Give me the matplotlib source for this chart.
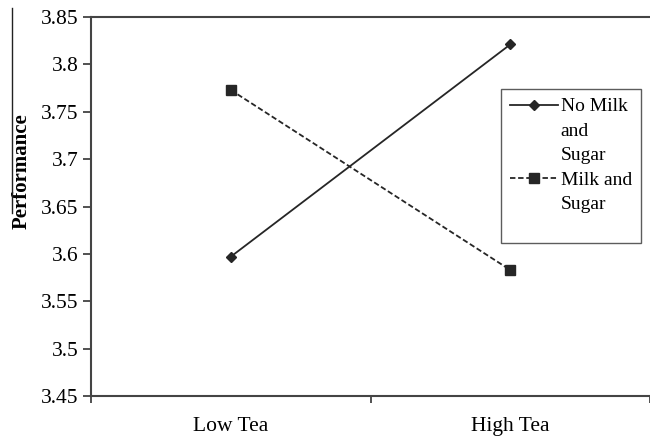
import numpy as np
import matplotlib.pyplot as plt
from matplotlib.lines import Line2D

# data
categories = ["Low Tea", "High Tea"]
no_milk = [3.597, 3.821]
milk = [3.773, 3.583]
yticks = [3.45, 3.5, 3.55, 3.6, 3.65, 3.7, 3.75, 3.8, 3.85]
legend_lines = [["No Milk", "and", "Sugar"], ["Milk and", "Sugar"]]

plt.rcParams['font.family'] = ['Liberation Serif', 'DejaVu Serif']

fig = plt.figure(figsize=(6.5, 4.4), dpi=100)
ax = fig.add_axes([91/650, 1-396/440, 1-91/650, (396-17)/440])

x = np.arange(len(categories)) + 0.5
l1, = ax.plot(x, no_milk, color='#262626', lw=1.3, ls='-', marker='D', ms=5.5)
l2, = ax.plot(x, milk, color='#262626', lw=1.3, ls=(0, (3, 1.5)), marker='s', ms=7)

ax.set_xlim(0, 2)
ax.set_ylim(3.45, 3.85)
ax.set_yticks(yticks)
ax.set_yticklabels([f"{v:g}" for v in yticks])
ax.set_xticks([0, 1, 2])
ax.set_xticklabels([])
ax.set_xticks(x, minor=True)
ax.set_xticklabels(categories, minor=True)
ax.tick_params(axis='x', which='minor', length=0, pad=15, labelsize=15.5)
ax.tick_params(axis='x', which='major', direction='out', length=5, width=1.2, color='#333333')
ax.tick_params(axis='y', direction='out', length=6, width=1.2, color='#333333',
               labelsize=15.5, pad=3)

for s in ['left', 'bottom', 'top']:
    ax.spines[s].set_color('#444444')
    ax.spines[s].set_linewidth(1.5)
ax.spines['right'].set_visible(False)

ax.set_ylabel("Performance", fontsize=15, fontweight='bold')
ax.yaxis.set_label_coords(-0.106, 0.594)

# legend: handle sits beside the first line of each label (Excel style)
blank = Line2D([], [], color='none')
handles, labels = [], []
for h, lines in zip([l1, l2], legend_lines):
    for i, txt in enumerate(lines):
        handles.append(h if i == 0 else blank)
        labels.append(txt)
handles.append(blank)
labels.append(" ")

leg = ax.legend(handles, labels, loc='upper left', fontsize=14, frameon=True, fancybox=False,
                edgecolor='#333333', handlelength=2.5, handletextpad=0.12,
                borderpad=0.45, labelspacing=0.35, borderaxespad=0)
leg.get_frame().set_linewidth(1.0)
leg.get_texts()[-1].set_fontsize(5)
leg.set_bbox_to_anchor(((501-91)/559, 1 - (89-17)/379), transform=ax.transAxes)

# stray scan line at top-left
fig.add_artist(Line2D([12/650, 12/650], [1-8/440, 1-213/440], color='#222222', lw=1.0))

fig.savefig("out.png", dpi=100)
